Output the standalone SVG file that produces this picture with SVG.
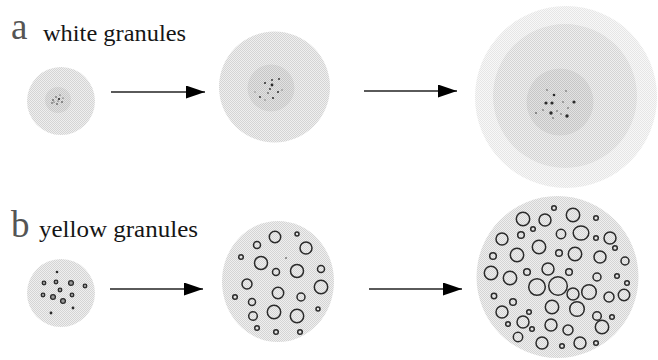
<svg xmlns="http://www.w3.org/2000/svg" width="658" height="360" viewBox="0 0 658 360">
  <style>
    .label { font-family: "Liberation Serif", "Times New Roman", serif; fill: #555; font-size: 37px; }
    .title { font-family: "Liberation Serif", "Times New Roman", serif; fill: #151515; font-size: 23.5px; }
    .outer { fill: url(#dotLight); }
    .core { fill: url(#dotMid); }
    .halo { fill: url(#dotPale); }
    .speck { fill: #2a2a2a; }
    .speck-l { fill: #808080; }
    .ring { fill: url(#dotLight); stroke: #2a2a2a; stroke-width: 1.5; }
    .seed { fill: #9a9a9a; stroke: #2a2a2a; stroke-width: 1.3; }
    .arrow { stroke: #5a5a5a; stroke-width: 2.2; fill: none; marker-end: url(#head); }
  </style>
  <defs>
    <!-- stippled grey tones -->
    <pattern id="dotPale" width="2" height="2" patternUnits="userSpaceOnUse">
      <rect width="2" height="2" fill="#f8f8f8"/>
      <rect width="1" height="1" fill="#e6e6e6"/>
      <rect x="1" y="1" width="1" height="1" fill="#e6e6e6"/>
    </pattern>
    <pattern id="dotLight" width="2" height="2" patternUnits="userSpaceOnUse">
      <rect width="2" height="2" fill="#efefef"/>
      <rect width="1" height="1" fill="#d4d4d4"/>
      <rect x="1" y="1" width="1" height="1" fill="#d4d4d4"/>
    </pattern>
    <pattern id="dotMid" width="2" height="2" patternUnits="userSpaceOnUse">
      <rect width="2" height="2" fill="#e2e2e2"/>
      <rect width="1" height="1" fill="#c6c6c6"/>
      <rect x="1" y="1" width="1" height="1" fill="#c6c6c6"/>
    </pattern>
    <marker id="head" markerUnits="userSpaceOnUse" markerWidth="20" markerHeight="14" refX="19" refY="6.5" orient="auto">
      <path d="M0,0 L19,6.5 L0,13 z" fill="#000"/>
    </marker>
  </defs>

  <!-- row labels -->
  <text class="label" x="11" y="39">a</text>
  <text class="title" x="43" y="41" textLength="143" lengthAdjust="spacingAndGlyphs">white granules</text>
  <text class="label" x="11" y="237">b</text>
  <text class="title" x="39" y="237" textLength="159" lengthAdjust="spacingAndGlyphs">yellow granules</text>

  <!-- white granules, stage 1 -->
  <g id="white-1">
    <circle class="outer" cx="61" cy="101" r="34"/>
    <circle class="core" cx="58" cy="100" r="13"/>
    <circle class="speck" cx="53" cy="100" r="0.8"/>
    <circle class="speck" cx="59" cy="99" r="1.1"/>
    <circle class="speck" cx="62" cy="102" r="0.8"/>
    <circle class="speck" cx="52" cy="103" r="0.7"/>
    <circle class="speck" cx="56" cy="97" r="0.7"/>
    <circle class="speck" cx="57" cy="104" r="0.8"/>
    <circle class="speck" cx="60" cy="95" r="0.6"/>
    <circle class="speck" cx="54" cy="102" r="0.6"/>
    <circle class="speck" cx="63" cy="98" r="0.6"/>
    <circle class="speck" cx="58" cy="101" r="0.6"/>
  </g>

  <!-- white granules, stage 2 -->
  <g id="white-2">
    <circle class="outer" cx="274.5" cy="87" r="55.5"/>
    <circle class="core" cx="271" cy="88" r="23.5"/>
    <circle class="speck" cx="265" cy="83" r="1"/>
    <circle class="speck" cx="272" cy="80" r="0.9"/>
    <circle class="speck" cx="279" cy="79" r="0.9"/>
    <circle class="speck" cx="272" cy="85" r="1.4"/>
    <circle class="speck" cx="270" cy="89" r="0.9"/>
    <circle class="speck" cx="278" cy="92" r="1"/>
    <circle class="speck" cx="268" cy="93" r="0.8"/>
    <circle class="speck" cx="260" cy="97" r="0.9"/>
    <circle class="speck" cx="273" cy="98" r="1"/>
    <circle class="speck-l" cx="265" cy="100" r="0.8"/>
    <circle class="speck-l" cx="282" cy="90" r="0.8"/>
    <circle class="speck-l" cx="255" cy="92" r="0.7"/>
  </g>

  <!-- white granules, stage 3 -->
  <g id="white-3">
    <circle class="halo" cx="566" cy="97" r="91"/>
    <circle class="outer" cx="565" cy="96" r="72"/>
    <circle class="core" cx="560" cy="102" r="33.5"/>
    <circle class="speck-l" cx="547" cy="90" r="0.9"/>
    <circle class="speck" cx="554" cy="95" r="1.3"/>
    <circle class="speck-l" cx="566" cy="91" r="0.9"/>
    <circle class="speck" cx="546" cy="103" r="1.6"/>
    <circle class="speck" cx="552" cy="103" r="1.6"/>
    <circle class="speck-l" cx="563" cy="102" r="0.9"/>
    <circle class="speck" cx="574" cy="102" r="1.6"/>
    <circle class="speck-l" cx="543" cy="110" r="0.9"/>
    <circle class="speck" cx="536" cy="113" r="0.8"/>
    <circle class="speck" cx="551" cy="113" r="1.7"/>
    <circle class="speck-l" cx="557" cy="111" r="0.9"/>
    <circle class="speck-l" cx="561" cy="114" r="0.9"/>
    <circle class="speck" cx="567" cy="116" r="1.7"/>
    <circle class="speck-l" cx="568" cy="108" r="0.9"/>
    <circle class="speck-l" cx="553" cy="118" r="0.9"/>
  </g>

  <!-- yellow granules, stage 1 -->
  <g id="yellow-1">
    <circle class="outer" cx="61" cy="293" r="34"/>
    <circle class="speck" cx="57" cy="272" r="1.3"/>
    <circle class="seed" cx="44" cy="283" r="1.8"/>
    <circle class="seed" cx="56" cy="282" r="1.8"/>
    <circle class="seed" cx="71" cy="283" r="2.4"/>
    <circle class="seed" cx="85" cy="286" r="1.8"/>
    <circle class="seed" cx="60" cy="290" r="1.8"/>
    <circle class="seed" cx="43" cy="295" r="1.8"/>
    <circle class="seed" cx="53" cy="297" r="2.4"/>
    <circle class="seed" cx="63" cy="301" r="2.4"/>
    <circle class="seed" cx="72" cy="295" r="1.8"/>
    <circle class="speck" cx="73" cy="308" r="1.4"/>
    <circle class="speck" cx="51" cy="313" r="1.4"/>
  </g>

  <!-- yellow granules, stage 2 -->
  <g id="yellow-2">
    <ellipse class="outer" cx="278" cy="281.5" rx="56" ry="60.5"/>
    <circle class="ring" cx="275" cy="237" r="5.7"/>
    <circle class="ring" cx="297" cy="234" r="2"/>
    <circle class="ring" cx="306" cy="248" r="6"/>
    <circle class="ring" cx="257" cy="245" r="3.5"/>
    <circle class="ring" cx="241" cy="257" r="2.3"/>
    <circle class="ring" cx="261" cy="263" r="6.5"/>
    <circle class="speck-l" cx="286" cy="258" r="1.1"/>
    <circle class="ring" cx="276" cy="272" r="3.5"/>
    <circle class="ring" cx="297" cy="271" r="6.5"/>
    <circle class="ring" cx="321" cy="269" r="3.5"/>
    <circle class="ring" cx="247" cy="284" r="5"/>
    <circle class="ring" cx="321" cy="287" r="6.7"/>
    <circle class="ring" cx="235" cy="297" r="2.3"/>
    <circle class="ring" cx="278" cy="293" r="5.7"/>
    <circle class="ring" cx="301" cy="297" r="4"/>
    <circle class="ring" cx="252" cy="302" r="3.5"/>
    <circle class="ring" cx="318" cy="309" r="2"/>
    <circle class="ring" cx="253" cy="316" r="4.3"/>
    <circle class="ring" cx="274" cy="312" r="6.7"/>
    <circle class="ring" cx="297" cy="316" r="6.7"/>
    <circle class="ring" cx="257" cy="328" r="2.3"/>
    <circle class="ring" cx="276" cy="332" r="2.3"/>
    <circle class="ring" cx="300" cy="332" r="2.3"/>
  </g>

  <!-- yellow granules, stage 3 -->
  <g id="yellow-3">
    <circle class="outer" cx="557.5" cy="277" r="81"/>
    <circle class="ring" cx="523" cy="219" r="6.7"/>
    <circle class="ring" cx="545" cy="220" r="6"/>
    <circle class="ring" cx="554" cy="208" r="2.3"/>
    <circle class="ring" cx="573" cy="215" r="6.7"/>
    <circle class="ring" cx="596" cy="218" r="2.3"/>
    <circle class="ring" cx="533" cy="229" r="2.3"/>
    <circle class="ring" cx="502" cy="239" r="6"/>
    <circle class="ring" cx="521" cy="235" r="3.3"/>
    <circle class="ring" cx="561" cy="234" r="4.7"/>
    <ellipse class="ring" cx="581" cy="233" rx="7.8" ry="7"/>
    <circle class="ring" cx="596" cy="238" r="2.3"/>
    <circle class="ring" cx="610" cy="238" r="6"/>
    <circle class="ring" cx="539" cy="247" r="6.7"/>
    <circle class="ring" cx="615" cy="248" r="2.3"/>
    <circle class="ring" cx="493" cy="256" r="3.3"/>
    <circle class="ring" cx="517" cy="255" r="6.7"/>
    <circle class="ring" cx="559" cy="253" r="3.3"/>
    <circle class="ring" cx="575" cy="254" r="6.7"/>
    <circle class="ring" cx="600" cy="257" r="6"/>
    <circle class="ring" cx="625" cy="261" r="4"/>
    <circle class="ring" cx="491" cy="273" r="6.7"/>
    <circle class="ring" cx="510" cy="278" r="6.7"/>
    <circle class="ring" cx="527" cy="272" r="3.3"/>
    <circle class="ring" cx="548" cy="269" r="6"/>
    <circle class="ring" cx="569" cy="272" r="3.3"/>
    <circle class="ring" cx="597" cy="277" r="4"/>
    <circle class="ring" cx="617" cy="276" r="2.3"/>
    <circle class="ring" cx="627" cy="283" r="2.3"/>
    <circle class="ring" cx="537" cy="287" r="8.3"/>
    <circle class="ring" cx="558" cy="286" r="9.3"/>
    <circle class="ring" cx="573" cy="294" r="6"/>
    <circle class="ring" cx="589" cy="292" r="7.3"/>
    <circle class="ring" cx="609" cy="297" r="5"/>
    <circle class="ring" cx="624" cy="295" r="5.7"/>
    <circle class="ring" cx="494" cy="296" r="2.7"/>
    <circle class="ring" cx="513" cy="302" r="3.3"/>
    <circle class="ring" cx="552" cy="307" r="6.7"/>
    <circle class="ring" cx="577" cy="309" r="7.3"/>
    <circle class="ring" cx="502" cy="312" r="6"/>
    <circle class="ring" cx="529" cy="312" r="2.3"/>
    <circle class="ring" cx="597" cy="316" r="4.3"/>
    <circle class="ring" cx="612" cy="317" r="2.3"/>
    <circle class="ring" cx="523" cy="322" r="6"/>
    <circle class="ring" cx="508" cy="324" r="2.3"/>
    <circle class="ring" cx="551" cy="325" r="6"/>
    <circle class="ring" cx="532" cy="329" r="2.3"/>
    <circle class="ring" cx="568" cy="330" r="5"/>
    <circle class="ring" cx="602" cy="327" r="6.7"/>
    <circle class="ring" cx="518" cy="337" r="4.7"/>
    <circle class="ring" cx="542" cy="343" r="6"/>
    <circle class="ring" cx="562" cy="346" r="2.3"/>
    <circle class="ring" cx="580" cy="343" r="6"/>
    <circle class="ring" cx="596" cy="343" r="2.3"/>
  </g>

  <!-- growth arrows -->
  <g id="connectors">
    <line class="arrow" x1="111" y1="92" x2="205" y2="92"/>
    <line class="arrow" x1="364" y1="91" x2="457" y2="91"/>
    <line class="arrow" x1="110" y1="289" x2="203" y2="289"/>
    <line class="arrow" x1="369" y1="289" x2="462" y2="289"/>
  </g>
</svg>
